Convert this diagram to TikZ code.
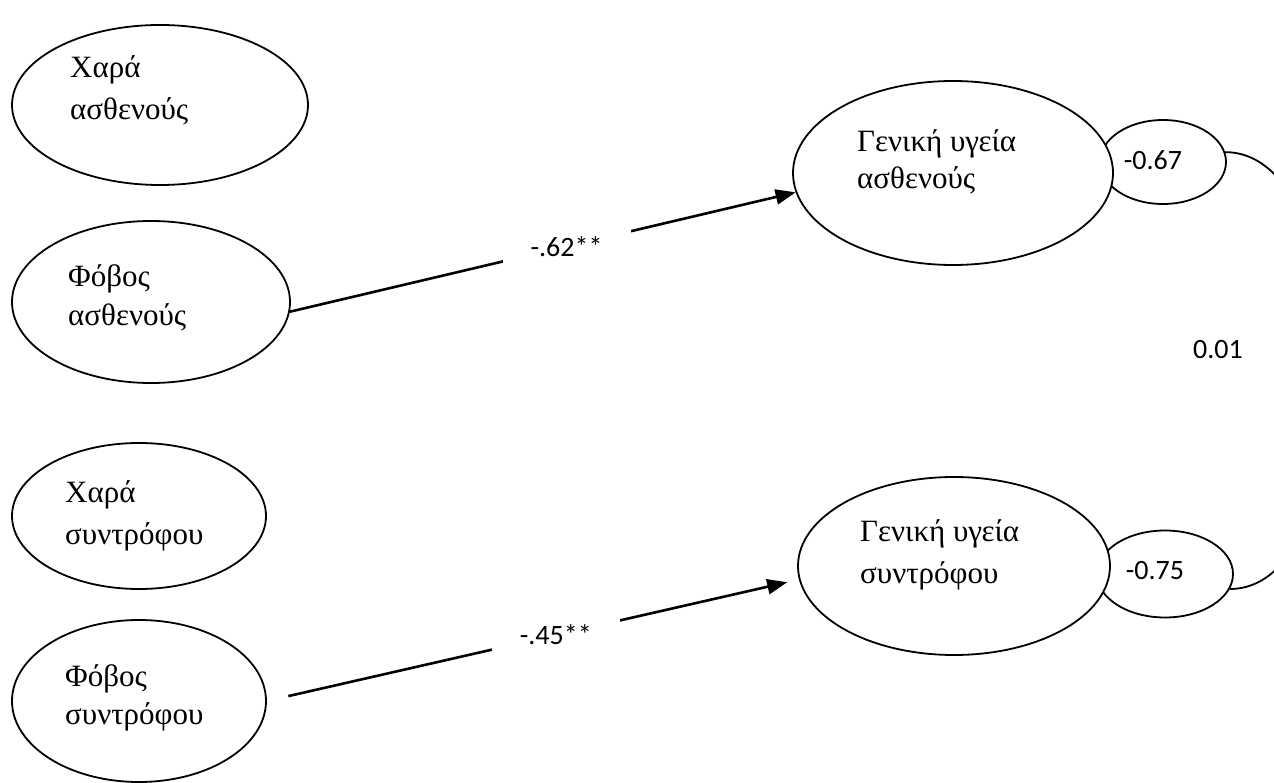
\documentclass[tikz,border=0pt]{standalone}
\usepackage{fontspec}
\setmainfont{Liberation Serif}
\newfontfamily\numfont{Carlito}
\usetikzlibrary{shapes.geometric,arrows.meta}
\begin{document}
\begin{tikzpicture}[x=1pt,y=-1pt,
  oval/.style={ellipse, draw=black, line width=1.8pt, fill=white, inner sep=0pt},
  word/.style={anchor=base west, inner sep=0pt, font=\fontsize{31}{31}\selectfont},
  num/.style={inner sep=0pt, font=\numfont\fontsize{28}{28}\selectfont},
  path/.style={line width=2.6pt, -{Triangle[length=20pt,width=15pt]}},
  coef/.style={fill=white, inner sep=0pt, minimum width=128pt, minimum height=40pt,
               font=\numfont\fontsize{28}{28}\selectfont}]
\useasboundingbox (0,0) rectangle (1274,783);
\clip (0,0) rectangle (1274,783);

% residual ellipses and their covariance curve (runs off to the right)
\node[oval, minimum width=126pt, minimum height=84pt] (F) at (1163,162) {};
\node[oval, minimum width=136pt, minimum height=87pt] (H) at (1165,574) {};
\draw[line width=1.8pt] (F.9) .. controls +(139,0) and +(139,0) .. (H.-13);
\node[num] (Fn) at (1153,160) {-0.67};
\node[num] (Hn) at (1155,571) {-0.75};
\node[num] (cov) at (1218,350) {0.01};

% predictors
\node[oval, minimum width=296pt, minimum height=160pt] (A) at (160,105) {};
\node[oval, minimum width=278pt, minimum height=162pt] (B) at (151,302) {};
\node[oval, minimum width=254pt, minimum height=146pt] (C) at (139,516) {};
\node[oval, minimum width=254pt, minimum height=162pt] (D) at (139,701) {};

% outcomes
\node[oval, minimum width=320pt, minimum height=184pt] (E) at (953,173) {};
\node[oval, minimum width=312pt, minimum height=178pt] (G) at (954,566) {};

% ellipse texts
\node[word] (A1) at (70,78) {Χαρά};
\node[word] (A2) at (70,120) {ασθενούς};
\node[word] (B1) at (68,287) {Φόβος};
\node[word] (B2) at (68,326) {ασθενούς};
\node[word] (C1) at (65,502) {Χαρά};
\node[word] (C2) at (65,544) {συντρόφου};
\node[word] (D1) at (65,686) {Φόβος};
\node[word] (D2) at (65,724) {συντρόφου};
\node[word] (E1) at (857,152) {Γενική υγεία};
\node[word] (E2) at (857,189) {ασθενούς};
\node[word] (G1) at (860,541) {Γενική υγεία};
\node[word] (G2) at (860,583) {συντρόφου};

% regression paths
\draw[path] (B.-4) -- (E.187) node[coef, pos=0.547] (p1) {-.62**};
\draw[path, shorten <=22pt, shorten >=12pt] (D.east) -- (G.185)
  node[coef, pos=0.543] (p2) {-.45**};
\end{tikzpicture}
\end{document}
